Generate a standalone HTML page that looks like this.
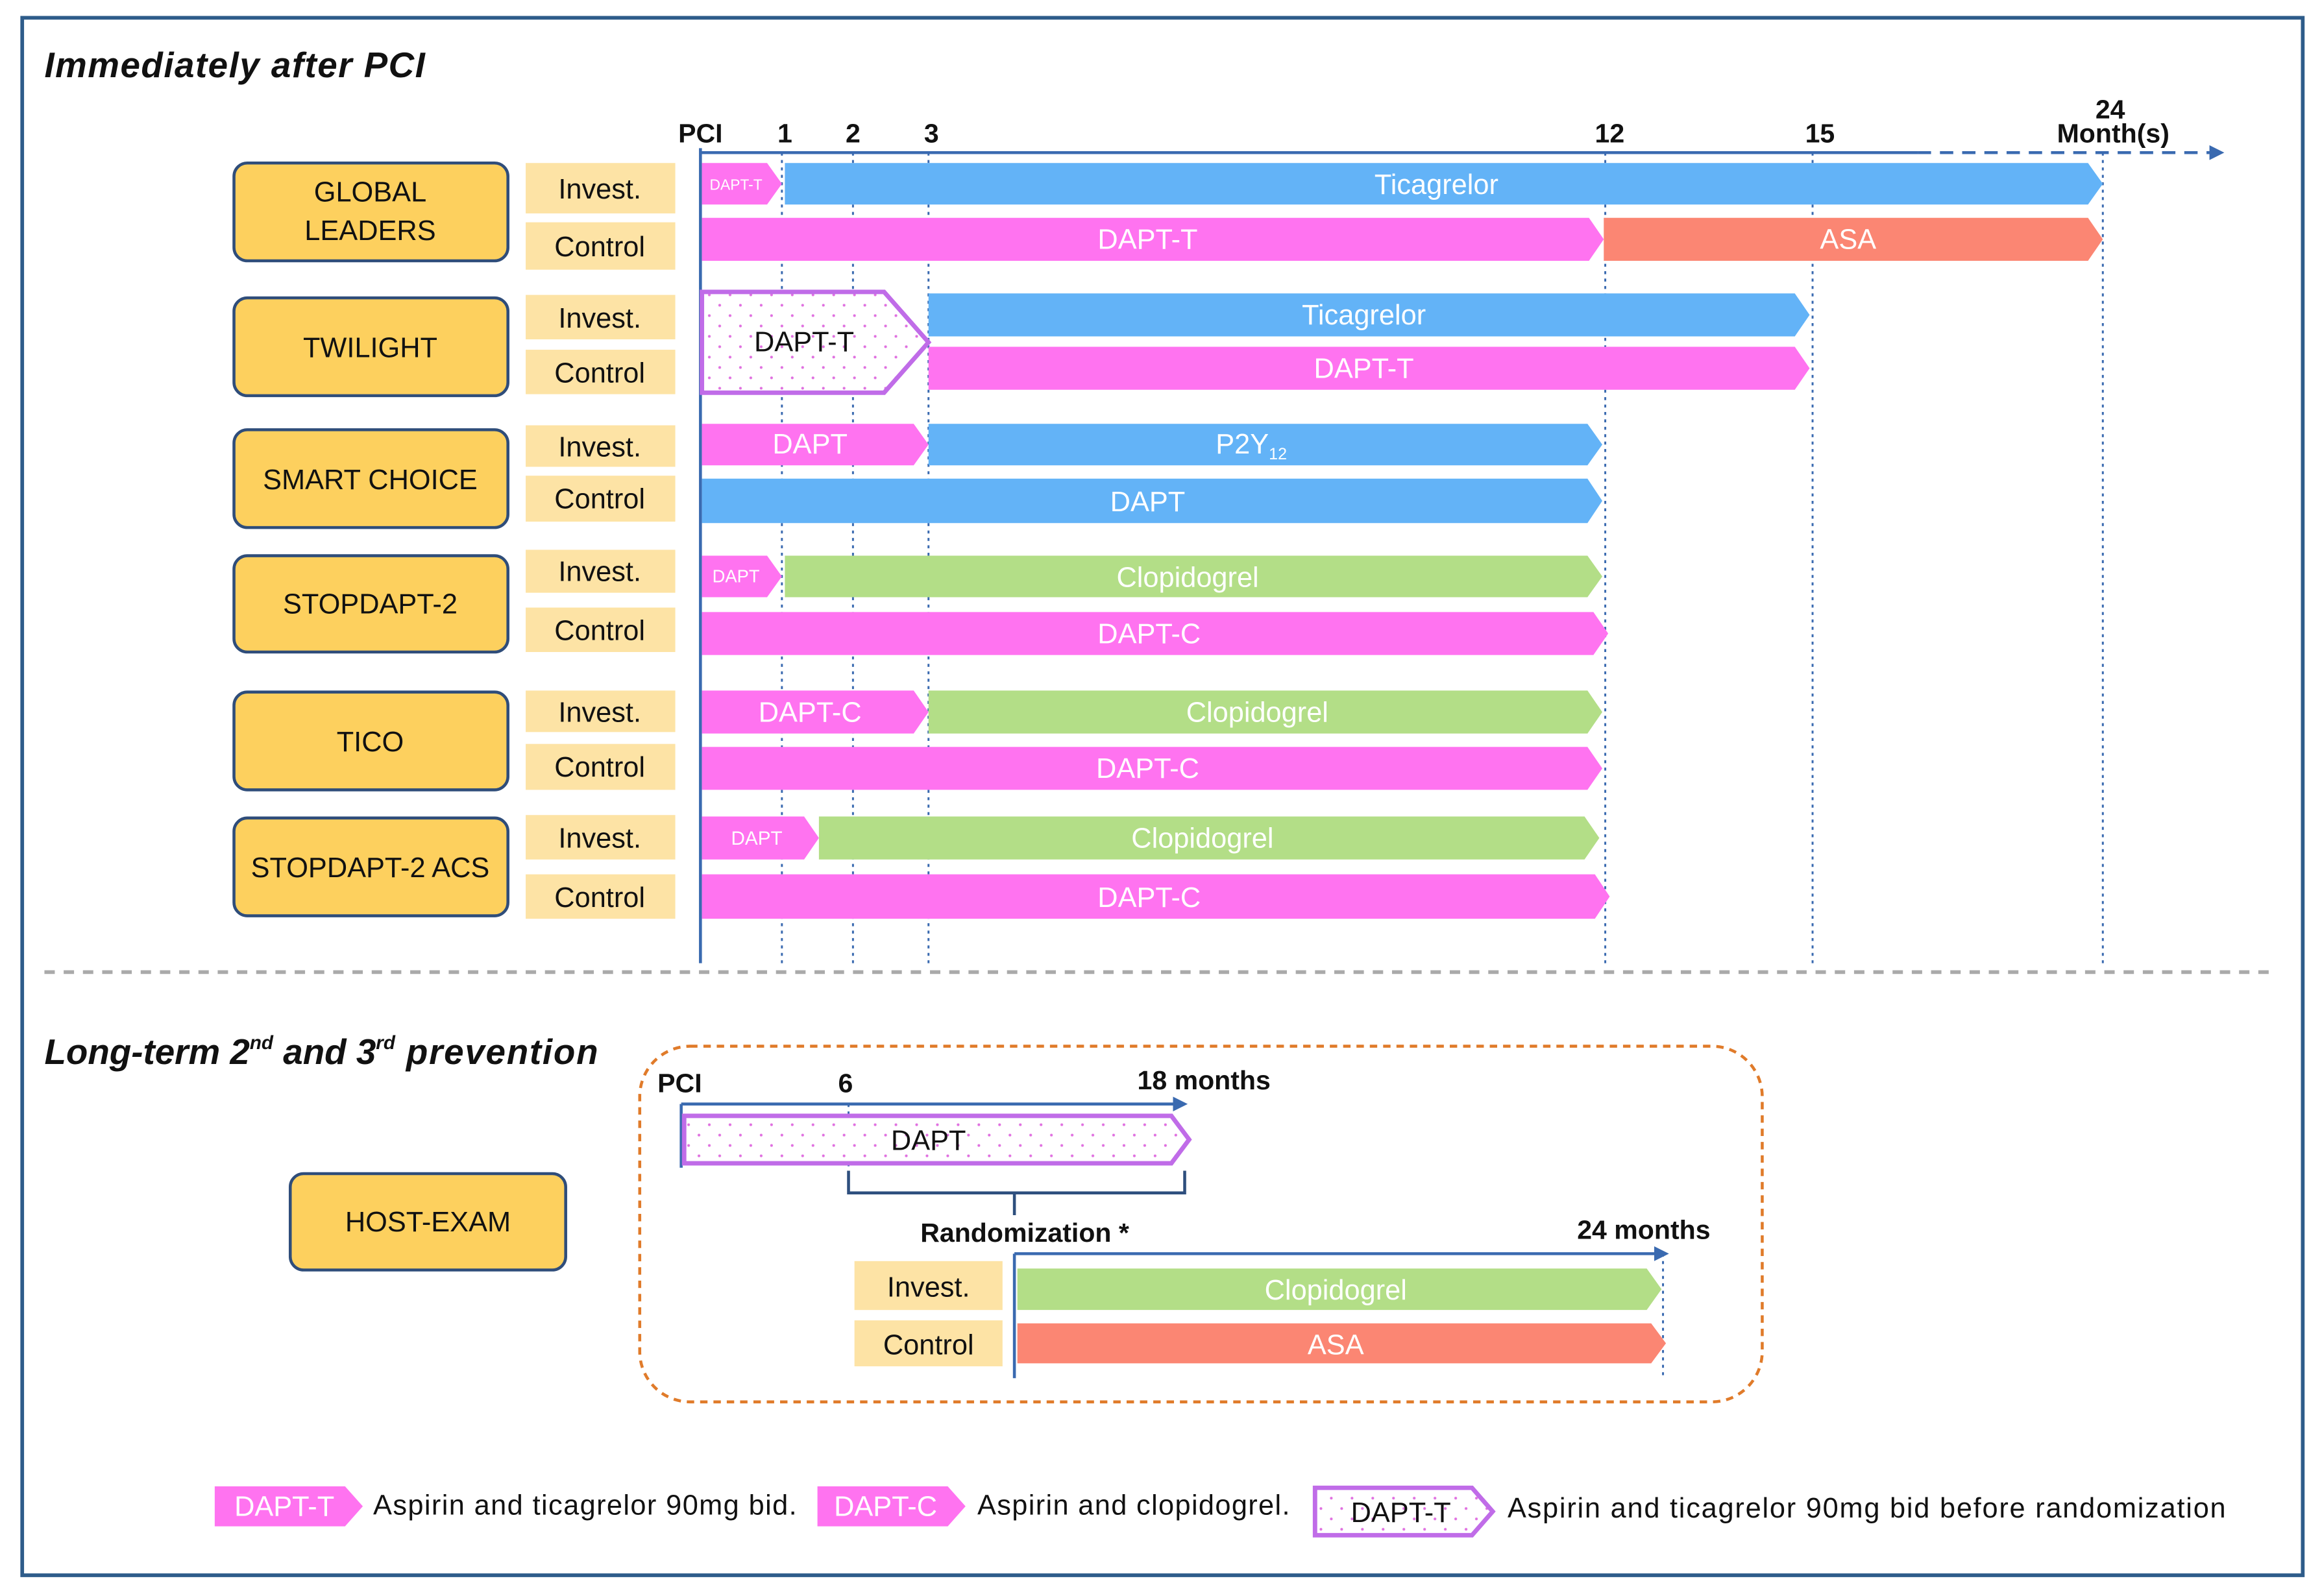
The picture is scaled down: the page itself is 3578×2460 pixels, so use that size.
<!DOCTYPE html>
<html><head><meta charset="utf-8"><style>
html,body{margin:0;padding:0;background:#fff;}
svg{display:block;}
text{font-family:"Liberation Sans",sans-serif;}
.w{fill:#fff;font-size:19px;text-anchor:middle;}
.k{fill:#111;font-size:19px;text-anchor:middle;}
.b{fill:#111;font-size:18px;font-weight:bold;text-anchor:middle;}
.lg{fill:#111;font-size:19px;}
.tb{fill:#fdd05e;stroke:#2f4d7a;stroke-width:2;}
.lb{fill:#fde3a5;}
.bl{fill:#63b3f7;}.pk{fill:#ff73f0;}.gr{fill:#b3de87;}.sa{fill:#fb8673;}
.dt{stroke:#3a6ab0;stroke-width:1.3;stroke-dasharray:2 3;}
</style></head><body>
<svg width="3578" height="2460" viewBox="0 0 1568 1077" preserveAspectRatio="none" xmlns="http://www.w3.org/2000/svg">
<defs>
<pattern id="dots" width="14" height="14" patternUnits="userSpaceOnUse">
<rect width="14" height="14" fill="#fff"/><circle cx="3" cy="3" r="0.9" fill="#e070e0"/><circle cx="10" cy="10" r="0.9" fill="#e070e0"/>
</pattern>
<marker id="ah" markerWidth="10" markerHeight="10" refX="8" refY="5" orient="auto" markerUnits="userSpaceOnUse"><path d="M0,0 L10,5 L0,10 z" fill="#3a6ab0"/></marker>
</defs>
<rect x="15" y="12" width="1540" height="1051" fill="none" stroke="#2e5c8a" stroke-width="2.5"/>
<text x="30" y="52" textLength="257" style="font-size:24px;font-weight:bold;font-style:italic;fill:#111">Immediately after PCI</text>

<line x1="473" y1="103" x2="1295" y2="103" stroke="#3a6ab0" stroke-width="2"/>
<line x1="1295" y1="103" x2="1500" y2="103" stroke="#3a6ab0" stroke-width="2" stroke-dasharray="9 6" marker-end="url(#ah)"/>
<line x1="473" y1="100" x2="473" y2="650" stroke="#3a6ab0" stroke-width="2"/>
<line class="dt" x1="528" y1="103" x2="528" y2="650"/>
<line class="dt" x1="576" y1="103" x2="576" y2="650"/>
<line class="dt" x1="627" y1="103" x2="627" y2="650"/>
<line class="dt" x1="1084" y1="103" x2="1084" y2="650"/>
<line class="dt" x1="1224" y1="103" x2="1224" y2="650"/>
<line class="dt" x1="1420" y1="103" x2="1420" y2="650"/>
<text class="b" x="473" y="96">PCI</text>
<text class="b" x="530" y="96">1</text>
<text class="b" x="576" y="96">2</text>
<text class="b" x="629" y="96">3</text>
<text class="b" x="1087" y="96">12</text>
<text class="b" x="1229" y="96">15</text>
<text class="b" x="1425" y="80">24</text>
<text class="b" x="1427" y="96">Month(s)</text>

<rect class="tb" x="158" y="110" width="185" height="66" rx="9"/>
<text class="k" x="250" y="136">GLOBAL</text><text class="k" x="250" y="162">LEADERS</text>
<rect class="tb" x="158" y="201" width="185" height="66" rx="9"/><text class="k" x="250" y="241">TWILIGHT</text>
<rect class="tb" x="158" y="290" width="185" height="66" rx="9"/><text class="k" x="250" y="330">SMART CHOICE</text>
<rect class="tb" x="158" y="375" width="185" height="65" rx="9"/><text class="k" x="250" y="414">STOPDAPT-2</text>
<rect class="tb" x="158" y="467" width="185" height="66" rx="9"/><text class="k" x="250" y="507">TICO</text>
<rect class="tb" x="158" y="552" width="185" height="66" rx="9"/><text class="k" x="250" y="592">STOPDAPT-2 ACS</text>

<g>
<rect class="lb" x="355" y="110" width="101" height="34"/><text class="k" x="405" y="134">Invest.</text>
<rect class="lb" x="355" y="150" width="101" height="32"/><text class="k" x="405" y="173">Control</text>
<rect class="lb" x="355" y="199" width="101" height="30"/><text class="k" x="405" y="221">Invest.</text>
<rect class="lb" x="355" y="236" width="101" height="30"/><text class="k" x="405" y="258">Control</text>
<rect class="lb" x="355" y="287" width="101" height="28"/><text class="k" x="405" y="308">Invest.</text>
<rect class="lb" x="355" y="321" width="101" height="31"/><text class="k" x="405" y="343">Control</text>
<rect class="lb" x="355" y="371" width="101" height="29"/><text class="k" x="405" y="392">Invest.</text>
<rect class="lb" x="355" y="410" width="101" height="30"/><text class="k" x="405" y="432">Control</text>
<rect class="lb" x="355" y="466" width="101" height="28"/><text class="k" x="405" y="487">Invest.</text>
<rect class="lb" x="355" y="502" width="101" height="31"/><text class="k" x="405" y="524">Control</text>
<rect class="lb" x="355" y="550" width="101" height="30"/><text class="k" x="405" y="572">Invest.</text>
<rect class="lb" x="355" y="590" width="101" height="30"/><text class="k" x="405" y="612">Control</text>
</g>

<polygon class="pk" points="474,110 518,110 528,124 518,138 474,138"/><text x="497" y="128" style="fill:#fff;font-size:10px;text-anchor:middle">DAPT-T</text>
<polygon class="bl" points="530,110 1410,110 1420,124 1410,138 530,138"/><text class="w" x="970" y="131">Ticagrelor</text>
<polygon class="pk" points="474,147 1073,147 1083,161.5 1073,176 474,176"/><text class="w" x="775" y="168">DAPT-T</text>
<polygon class="sa" points="1083,147 1410,147 1420,161.5 1410,176 1083,176"/><text class="w" x="1248" y="168">ASA</text>

<polygon fill="url(#dots)" stroke="#c06ce8" stroke-width="3" points="474,197 597,197 627,231 597,265 474,265"/><text class="k" x="543" y="237">DAPT-T</text>
<polygon class="bl" points="627,198 1212,198 1222,212.5 1212,227 627,227"/><text class="w" x="921" y="219">Ticagrelor</text>
<polygon class="pk" points="627,234 1212,234 1222,248.5 1212,263 627,263"/><text class="w" x="921" y="255">DAPT-T</text>

<polygon class="pk" points="474,286 617,286 627,300 617,314 474,314"/><text class="w" x="547" y="306">DAPT</text>
<polygon class="bl" points="627,286 1072,286 1082,300 1072,314 627,314"/><text class="w" x="845" y="306">P2Y<tspan style="font-size:11px" dy="4">12</tspan></text>
<polygon class="bl" points="474,323 1072,323 1082,338 1072,353 474,353"/><text class="w" x="775" y="345">DAPT</text>

<polygon class="pk" points="474,375 518,375 528,389 518,403 474,403"/><text x="497" y="393" style="fill:#fff;font-size:12px;text-anchor:middle">DAPT</text>
<polygon class="gr" points="530,375 1072,375 1082,389 1072,403 530,403"/><text class="w" x="802" y="396">Clopidogrel</text>
<polygon class="pk" points="474,413 1076,413 1086,427.5 1076,442 474,442"/><text class="w" x="776" y="434">DAPT-C</text>

<polygon class="pk" points="474,466 617,466 627,480.5 617,495 474,495"/><text class="w" x="547" y="487">DAPT-C</text>
<polygon class="gr" points="627,466 1072,466 1082,480.5 1072,495 627,495"/><text class="w" x="849" y="487">Clopidogrel</text>
<polygon class="pk" points="474,504 1072,504 1082,518.5 1072,533 474,533"/><text class="w" x="775" y="525">DAPT-C</text>

<polygon class="pk" points="474,551 543,551 553,565.5 543,580 474,580"/><text x="511" y="570" style="fill:#fff;font-size:13px;text-anchor:middle">DAPT</text>
<polygon class="gr" points="553,551 1070,551 1080,565.5 1070,580 553,580"/><text class="w" x="812" y="572">Clopidogrel</text>
<polygon class="pk" points="474,590 1077,590 1087,605 1077,620 474,620"/><text class="w" x="776" y="612">DAPT-C</text>

<line x1="30" y1="656" x2="1535" y2="656" stroke="#aaa" stroke-width="2.5" stroke-dasharray="7 6"/>

<text x="30" y="718" style="font-size:24px;font-weight:bold;font-style:italic;fill:#111">Long-term 2<tspan style="font-size:13px" dy="-10">nd</tspan><tspan dy="10"> and 3</tspan><tspan style="font-size:13px" dy="-10">rd</tspan><tspan dy="10" textLength="137"> prevention</tspan></text>
<rect x="432" y="706" width="758" height="240" rx="34" fill="none" stroke="#e07b2a" stroke-width="2" stroke-dasharray="5 4"/>
<rect class="tb" x="196" y="792" width="186" height="65" rx="9"/><text class="k" x="289" y="831">HOST-EXAM</text>

<text class="b" x="459" y="737">PCI</text>
<text class="b" x="571" y="737">6</text>
<text class="b" x="813" y="735">18 months</text>
<line x1="460" y1="745" x2="800" y2="745" stroke="#3a6ab0" stroke-width="2" marker-end="url(#ah)"/>
<line x1="460" y1="745" x2="460" y2="788" stroke="#3a6ab0" stroke-width="2"/>
<line class="dt" x1="573" y1="745" x2="573" y2="790"/>
<polygon fill="url(#dots)" stroke="#c06ce8" stroke-width="3" points="462,753 791,753 803,769 791,785 462,785"/><text class="k" x="627" y="776">DAPT</text>
<path d="M573,790 L573,805 L800,805 L800,790 M685,805 L685,820" fill="none" stroke="#2e4f7e" stroke-width="2"/>
<text class="b" x="692" y="838">Randomization *</text>
<text class="b" x="1110" y="836">24 months</text>
<line x1="685" y1="846" x2="1125" y2="846" stroke="#3a6ab0" stroke-width="2" marker-end="url(#ah)"/>
<line x1="685" y1="846" x2="685" y2="930" stroke="#3a6ab0" stroke-width="2"/>
<line class="dt" x1="1123" y1="846" x2="1123" y2="930"/>
<rect class="lb" x="577" y="851" width="100" height="33"/><text class="k" x="627" y="875">Invest.</text>
<rect class="lb" x="577" y="891" width="100" height="31"/><text class="k" x="627" y="914">Control</text>
<polygon class="gr" points="687,856 1112,856 1122,870 1112,884 687,884"/><text class="w" x="902" y="877">Clopidogrel</text>
<polygon class="sa" points="687,893 1115,893 1125,906.5 1115,920 687,920"/><text class="w" x="902" y="914">ASA</text>

<polygon class="pk" points="145,1003 233,1003 245,1016.5 233,1030 145,1030"/><text class="w" x="192" y="1023">DAPT-T</text>
<text class="lg" x="252" y="1022" textLength="286">Aspirin and ticagrelor 90mg bid.</text>
<polygon class="pk" points="552,1003 640,1003 652,1016.5 640,1030 552,1030"/><text class="w" x="598" y="1023">DAPT-C</text>
<text class="lg" x="660" y="1022" textLength="211">Aspirin and clopidogrel.</text>
<polygon fill="url(#dots)" stroke="#c06ce8" stroke-width="3" points="888,1004 994,1004 1008,1020 994,1036 888,1036"/><text class="k" x="946" y="1027">DAPT-T</text>
<text class="lg" x="1018" y="1024" textLength="485">Aspirin and ticagrelor 90mg bid before randomization</text>
</svg>
</body></html>
